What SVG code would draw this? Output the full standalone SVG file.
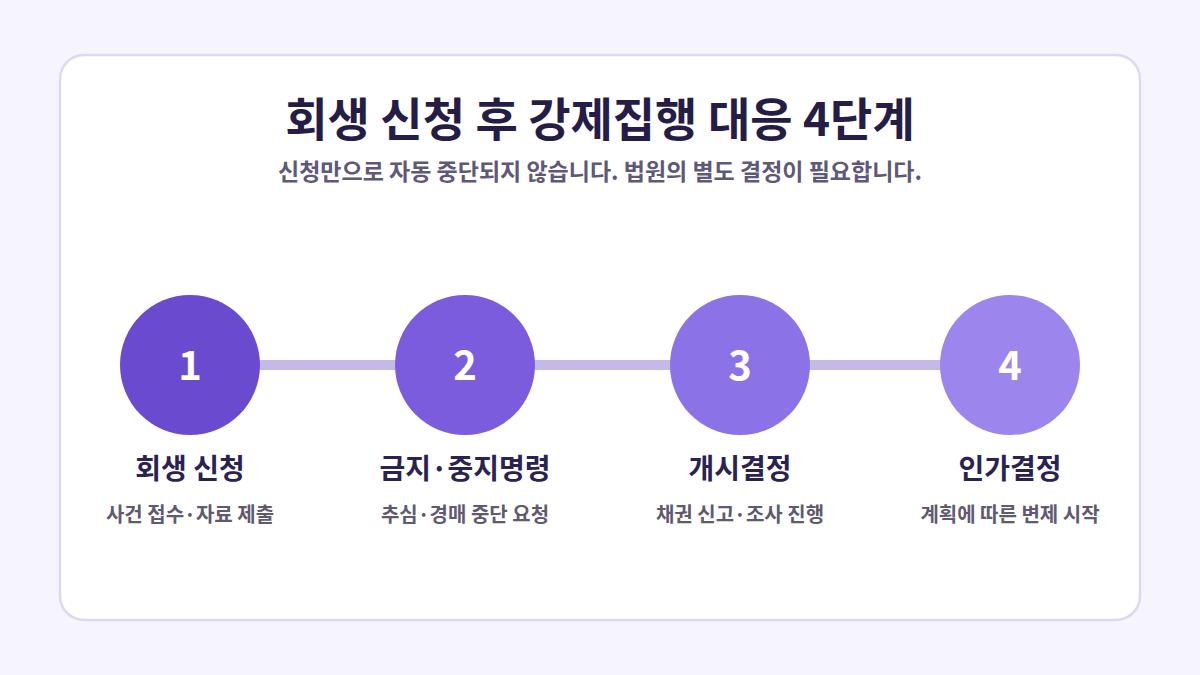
<svg xmlns="http://www.w3.org/2000/svg" width="1200" height="675" viewBox="0 0 1200 675">
<style>
text{font-family:"Noto Sans CJK KR","Noto Sans",sans-serif;text-anchor:middle}
.title{font-size:46px;font-weight:700;fill:#251d45}
.sub{font-size:23px;font-weight:700;fill:#605878}
.num{font-size:40px;font-weight:700;fill:#ffffff}
.lbl{font-size:28px;font-weight:700;fill:#2a2250}
.desc{font-size:20px;font-weight:700;fill:#5f5a70}
.conn{stroke:#c5b9e8;stroke-width:10}
</style>
<rect width="1200" height="675" fill="#f6f4fe"/>
<rect x="60" y="55" width="1080" height="565" rx="24" fill="#ffffff" stroke="#dcd7f2" stroke-width="2.5"/>
<text class="title" x="600" y="136">회생 신청 후 강제집행 대응 4단계</text>
<text class="sub" x="600" y="180">신청만으로 자동 중단되지 않습니다. 법원의 별도 결정이 필요합니다.</text>
<g id="connectors">
<line class="conn" x1="255" y1="365" x2="400" y2="365"/>
<line class="conn" x1="530" y1="365" x2="675" y2="365"/>
<line class="conn" x1="805" y1="365" x2="945" y2="365"/>
</g>
<g id="node1">
<circle cx="190" cy="365" r="70" fill="#6a4bcf"/>
<text class="num" x="190" y="380">1</text>
<text class="lbl" x="190" y="479">회생 신청</text>
<text class="desc" x="190" y="522">사건 접수·자료 제출</text>
</g>
<g id="node2">
<circle cx="465" cy="365" r="70" fill="#7b5cdc"/>
<text class="num" x="465" y="380">2</text>
<text class="lbl" x="465" y="479">금지·중지명령</text>
<text class="desc" x="465" y="522">추심·경매 중단 요청</text>
</g>
<g id="node3">
<circle cx="740" cy="365" r="70" fill="#8b72e6"/>
<text class="num" x="740" y="380">3</text>
<text class="lbl" x="740" y="479">개시결정</text>
<text class="desc" x="740" y="522">채권 신고·조사 진행</text>
</g>
<g id="node4">
<circle cx="1010" cy="365" r="70" fill="#9d85ee"/>
<text class="num" x="1010" y="380">4</text>
<text class="lbl" x="1010" y="479">인가결정</text>
<text class="desc" x="1010" y="522">계획에 따른 변제 시작</text>
</g>
</svg>
